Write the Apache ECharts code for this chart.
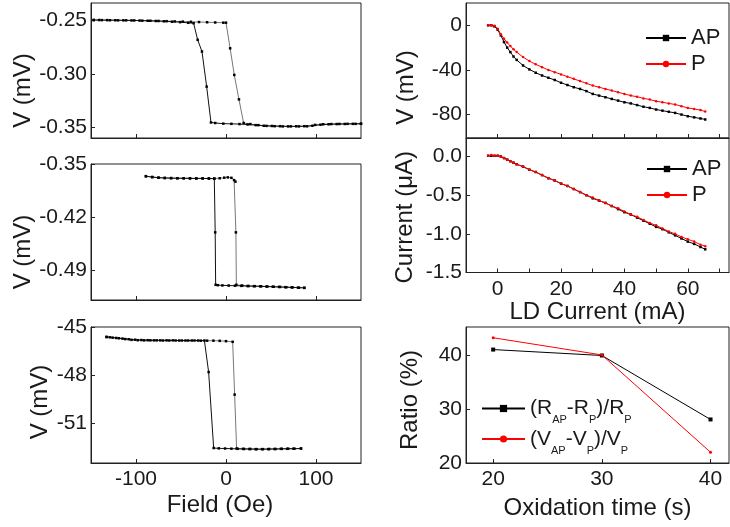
<!DOCTYPE html>
<html><head><meta charset="utf-8">
<script src="https://cdn.jsdelivr.net/npm/echarts@6/dist/echarts.min.js"></script>
<style>html,body{margin:0;padding:0;background:#fff}#c{width:730px;height:527px}</style>
</head><body><div id="c"></div>
<script>
// ---------- Panel 1 (hysteresis loop, V in mV) ----------
const p1UpField = [-147,-138,-129,-120,-111,-102,-93,-84,-75,-66,-57,-48,-39,-30,-21,-12,-3,0,4.6,9.2,14.4,19.6,27,36,45,54,63,72,81,90,99,108,117,126,135,144,150];
const p1UpV = [-0.2494,-0.2495,-0.2496,-0.2497,-0.2497,-0.2498,-0.2500,-0.2501,-0.2503,-0.2505,-0.2507,-0.2509,-0.2511,-0.2513,-0.2515,-0.2517,-0.2519,-0.2519,-0.2760,-0.3010,-0.3240,-0.3462,-0.3472,-0.3482,-0.3489,-0.3492,-0.3494,-0.3494,-0.3494,-0.3493,-0.3480,-0.3474,-0.3472,-0.3471,-0.3470,-0.3470,-0.3469];
const p1DownField = [150,141,132,123,114,105,96,87,78,69,60,51,42,33,24,15,6,-3,-12,-16.7,-21.5,-26.7,-31.5,-36,-42,-51,-60,-69,-78,-87,-96,-105,-114,-123,-132,-141,-147];
const p1DownV = [-0.3469,-0.3470,-0.3471,-0.3472,-0.3474,-0.3478,-0.3488,-0.3492,-0.3493,-0.3494,-0.3492,-0.3490,-0.3488,-0.3482,-0.3476,-0.3472,-0.3470,-0.3468,-0.3462,-0.3457,-0.3120,-0.2790,-0.2680,-0.2524,-0.2520,-0.2514,-0.2510,-0.2506,-0.2503,-0.2501,-0.2499,-0.2498,-0.2497,-0.2496,-0.2495,-0.2494,-0.2494];
const p1YTicks = [-0.35,-0.30,-0.25];

// ---------- Panel 2 ----------
const p2UpField = [-89,-82,-75,-68,-61,-54,-47,-40,-33,-26,-19,-13,-7,-2,2,6,9,10.5,11,11.5,18,25,32,39,46,53,60,67,74,81,87];
const p2UpV = [-0.3660,-0.3672,-0.3680,-0.3684,-0.3686,-0.3688,-0.3688,-0.3689,-0.3690,-0.3690,-0.3691,-0.3691,-0.3688,-0.3680,-0.3676,-0.3682,-0.3712,-0.3732,-0.4400,-0.5090,-0.5100,-0.5106,-0.5108,-0.5110,-0.5112,-0.5116,-0.5118,-0.5122,-0.5124,-0.5128,-0.5130];
const p2DownField = [87,80,73,66,59,52,45,38,31,24,17,10,3,-4,-9,-11.5,-12,-13,-19,-26,-33,-40,-47,-54,-61,-68,-75,-82,-89];
const p2DownV = [-0.5130,-0.5127,-0.5124,-0.5121,-0.5118,-0.5115,-0.5113,-0.5110,-0.5108,-0.5106,-0.5104,-0.5102,-0.5100,-0.5098,-0.5095,-0.5090,-0.4400,-0.3693,-0.3691,-0.3690,-0.3690,-0.3689,-0.3688,-0.3687,-0.3686,-0.3684,-0.3680,-0.3672,-0.3662];
const p2YTicks = [-0.49,-0.42,-0.35];

// ---------- Panel 3 ----------
const p3UpField = [-132.7,-126,-119,-112,-105,-98,-91,-84,-77,-70,-63,-56,-49,-42,-35,-28,-21,-14,-7,0,7.4,9.6,11.8,19,26,33,40,47,54,61,68,75,83.3];
const p3UpV = [-45.62,-45.66,-45.70,-45.75,-45.80,-45.82,-45.83,-45.83,-45.83,-45.84,-45.84,-45.84,-45.84,-45.84,-45.84,-45.85,-45.85,-45.85,-45.86,-45.88,-45.92,-49.20,-52.55,-52.57,-52.58,-52.59,-52.59,-52.59,-52.58,-52.57,-52.57,-52.56,-52.55];
const p3DownField = [83.3,76,69,62,55,48,41,34,27,20,13,6,-1,-8,-13.7,-19.3,-24,-31,-38,-45,-52,-59,-66,-73,-80,-87,-94,-101,-108,-115,-122,-129,-132.7];
const p3DownV = [-52.55,-52.56,-52.56,-52.57,-52.58,-52.58,-52.59,-52.59,-52.58,-52.58,-52.57,-52.56,-52.55,-52.54,-52.52,-47.80,-45.84,-45.84,-45.84,-45.84,-45.84,-45.83,-45.83,-45.83,-45.83,-45.82,-45.81,-45.79,-45.76,-45.72,-45.68,-45.64,-45.62];
const p3YTicks = [-51,-48,-45];
const fieldTicks = [-100,0,100];

// ---------- Panels 4 & 5 (vs LD current) ----------
const ldCurrent = [-3,-2,-1,0,1,2,3,4,5,6,8,10,12,14,16,18,20,22,24,26,28,30,32,34,36,38,40,42,44,46,48,50,52,54,56,58,60,62,64,65.5];
const vAP = [0,0,-1,-4,-9,-15,-20,-24,-28,-31,-36,-39.5,-42.5,-45,-47,-49,-51.5,-53.5,-55.5,-57,-59,-61.5,-63,-64.5,-66,-67.5,-69,-70,-71.5,-73,-74,-75.5,-76.5,-77.5,-78.5,-80,-81.5,-82.5,-83.5,-84.4];
const vP = [0,0,-0.5,-3,-8,-12,-15.5,-18.5,-21.5,-24,-28.5,-32,-35,-37.5,-40,-42,-44,-46,-48,-50,-52,-54,-55.5,-57,-58.5,-60,-61.5,-63,-64,-65.5,-66.5,-68,-69,-70,-71,-72.5,-74,-75,-76,-77.3];
const iAP = [0.01,0.01,0.01,0.01,0.0,-0.02,-0.04,-0.06,-0.08,-0.1,-0.13,-0.17,-0.2,-0.24,-0.28,-0.31,-0.35,-0.38,-0.42,-0.46,-0.5,-0.54,-0.57,-0.6,-0.64,-0.68,-0.72,-0.75,-0.79,-0.83,-0.87,-0.91,-0.94,-0.98,-1.02,-1.06,-1.1,-1.13,-1.17,-1.2];
const iP = [0.01,0.02,0.01,0.01,0.0,-0.02,-0.04,-0.06,-0.08,-0.1,-0.13,-0.17,-0.2,-0.24,-0.28,-0.31,-0.35,-0.38,-0.42,-0.46,-0.5,-0.53,-0.57,-0.6,-0.64,-0.67,-0.71,-0.75,-0.78,-0.82,-0.86,-0.89,-0.93,-0.97,-1.0,-1.04,-1.07,-1.1,-1.14,-1.16];
const ldTickLabels = [0,20,40,60];
const ldTicks = [0,10,20,30,40,50,60,70];
const vTicks = [-80,-40,0];
const iTicks = [-1.5,-1.0,-0.5,0.0];

// ---------- Panel 6 ----------
const oxTime = [20,30,40];
const ratioR = [41.1,40.0,28.1];
const ratioV = [43.3,40.1,22.0];
const oxTicks = [20,30,40];
const ratioTicks = [20,30,40];

const nameR = '(RAP-RP)/RP';
const nameV = '(VAP-VP)/VP';

const font = '"Liberation Sans", Arial, sans-serif';
const txt = '#1a1a1a';
const frame = '#222';

function grid(l,t,w,h){return {left:l,top:t,width:w,height:h,show:true,borderColor:frame,borderWidth:1,backgroundColor:'transparent'};}
function xAx(gi,min,max,labels,ticks,showLabels,name,nameGap,namePad){
  return {type:'value',gridIndex:gi,min:min,max:max,position:'bottom',
    axisLine:{show:true,onZero:false,lineStyle:{color:frame,width:1}},
    axisTick:{show:true,inside:true,length:4,customValues:ticks,lineStyle:{color:frame}},
    axisLabel:{show:showLabels,customValues:labels,fontSize:21,color:txt,fontFamily:font,margin:6,formatter:v=>String(Math.round(v))},
    splitLine:{show:false},
    name:name||'',nameLocation:'middle',nameGap:nameGap||0,
    nameTextStyle:{fontSize:24,color:txt,fontFamily:font,padding:namePad||0}};
}
function yAx(gi,min,max,ticks,dec,name,nameGap,namePad){
  return {type:'value',gridIndex:gi,min:min,max:max,position:'left',
    axisLine:{show:true,onZero:false,lineStyle:{color:frame,width:1}},
    axisTick:{show:true,inside:true,length:4,customValues:ticks,lineStyle:{color:frame}},
    axisLabel:{show:true,customValues:ticks,fontSize:21,color:txt,fontFamily:font,margin:4,
      formatter:v=>v.toFixed(dec)},
    splitLine:{show:false},
    name:name,nameLocation:'middle',nameGap:nameGap,nameRotate:90,
    nameTextStyle:{fontSize:24,color:txt,fontFamily:font,padding:namePad||0}};
}
function pairs(xs,ys){return xs.map((x,i)=>[x,ys[i]]);}
function loopS(name,idx,xs,ys,lineColor){
  return {type:'line',name:name,xAxisIndex:idx,yAxisIndex:idx,data:pairs(xs,ys),
    symbol:'rect',symbolSize:2.5,itemStyle:{color:'#000'},
    lineStyle:{color:lineColor,width:1},animation:false};
}
function mS(name,idx,xs,ys,color,symbol,size,z){
  return {type:'line',name:name,xAxisIndex:idx,yAxisIndex:idx,data:pairs(xs,ys),
    symbol:symbol,symbolSize:size,itemStyle:{color:color},
    lineStyle:{color:color,width:1},animation:false,z:z};
}

const option = {
  backgroundColor:'#fff',
  textStyle:{fontFamily:font},
  grid:[grid(91,3,270,135),grid(91,164,270,136),grid(91,327,270,136),
        grid(466,3,263,135),grid(466,138,263,134.5),grid(466,327,263,136)],
  xAxis:[
    xAx(0,-150,150,fieldTicks,fieldTicks,false),
    xAx(1,-150,150,fieldTicks,fieldTicks,false),
    xAx(2,-150,150,fieldTicks,fieldTicks,true,'Field (Oe)',30,[0,12,0,0]),
    xAx(3,-10,73,ldTickLabels,ldTicks,false),
    xAx(4,-10,73,ldTickLabels,ldTicks,true,'LD Current (mA)',25,[0,0,0,0]),
    xAx(5,17.5,41.7,oxTicks,oxTicks,true,'Oxidation time (s)',33,[0,0,0,0])
  ],
  yAxis:[
    yAx(0,-0.3603,-0.2334,p1YTicks,2,'V (mV)',38,[0,40,0,0]),
    yAx(1,-0.529,-0.35,p2YTicks,2,'V (mV)',38,[0,40,0,0]),
    yAx(2,-53.45,-45,p3YTicks,0,'V (mV)',38,[0,14,0,0]),
    yAx(3,-101,20,vTicks,0,'V (mV)',48,[0,34,0,0]),
    yAx(4,-1.5,0.24,iTicks,1,'Current (\u03bcA)',49,[0,24,0,0]),
    yAx(5,20,45.3,ratioTicks,0,'Ratio (%)',44,[0,10,0,0])
  ],
  legend:[
    {orient:'vertical',left:640,top:22,itemWidth:40,itemHeight:8,itemGap:4,data:['AP','P'],selectedMode:false,
     textStyle:{fontSize:22,color:txt,fontFamily:font,lineHeight:21}},
    {orient:'vertical',left:641,top:153,itemWidth:40,itemHeight:8,itemGap:4,data:['AP','P'],selectedMode:false,
     textStyle:{fontSize:22,color:txt,fontFamily:font,lineHeight:21}},
    {orient:'vertical',left:476,top:393,itemWidth:43,itemHeight:9,itemGap:3,data:[nameR,nameV],selectedMode:false,
     formatter:n=>n===nameR?'{m|(R}{s|AP}{m|-R}{s|P}{m|)/R}{s|P}':'{m|(V}{s|AP}{m|-V}{s|P}{m|)/V}{s|P}',
     textStyle:{color:txt,fontFamily:font,
       rich:{m:{fontSize:21,lineHeight:28,color:txt,fontFamily:font},
             s:{fontSize:11,lineHeight:12,verticalAlign:'bottom',color:txt,fontFamily:font,padding:[0,0,-3,0]}}}}
  ],
  series:[
    loopS('p1 up',0,p1UpField,p1UpV,'#777'),
    loopS('p1 down',0,p1DownField,p1DownV,'#111'),
    loopS('p2 up',1,p2UpField,p2UpV,'#777'),
    loopS('p2 down',1,p2DownField,p2DownV,'#111'),
    loopS('p3 up',2,p3UpField,p3UpV,'#777'),
    loopS('p3 down',2,p3DownField,p3DownV,'#111'),
    mS('AP',3,ldCurrent,vAP,'#000','rect',2.5,2),
    mS('P',3,ldCurrent,vP,'#ff0000','circle',2.5,3),
    mS('AP',4,ldCurrent,iAP,'#000','rect',2.5,2),
    mS('P',4,ldCurrent,iP,'#ff0000','circle',2.5,3),
    mS(nameR,5,oxTime,ratioR,'#000','rect',4,2),
    mS(nameV,5,oxTime,ratioV,'#ff0000','circle',3,3)
  ]
};
const chart = echarts.init(document.getElementById('c'),null,{renderer:'canvas'});
chart.setOption(option);
</script></body></html>
